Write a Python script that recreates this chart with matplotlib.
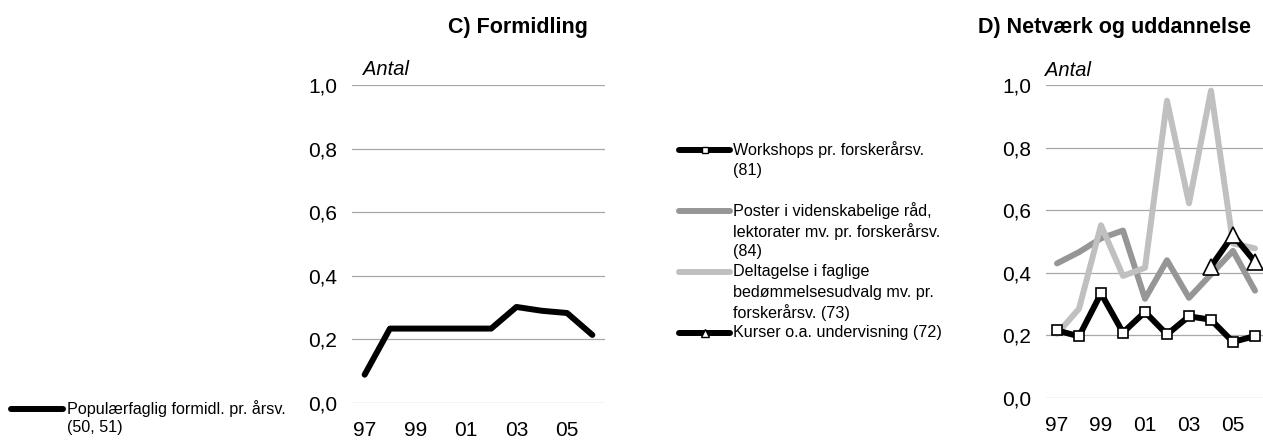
import matplotlib
matplotlib.use("Agg")
import matplotlib.pyplot as plt
from matplotlib.lines import Line2D

plt.rcParams['font.family'] = ['Liberation Sans', 'DejaVu Sans']

years = ['97', '98', '99', '00', '01', '02', '03', '04', '05', '06']
tick_labels = ['97', '99', '01', '03', '05']
y_ticks = [0.0, 0.2, 0.4, 0.6, 0.8, 1.0]
y_tick_labels = ['0,0', '0,2', '0,4', '0,6', '0,8', '1,0']

# Panel C
popular = [0.089, 0.234, 0.234, 0.234, 0.234, 0.234, 0.302, 0.290, 0.283, 0.214]

# Panel D
workshops = [0.216, 0.197, 0.334, 0.209, 0.275, 0.203, 0.261, 0.250, 0.179, 0.198]
poster = [0.430, 0.466, 0.510, 0.535, 0.317, 0.440, 0.320, 0.395, 0.470, 0.343]
deltagelse = [0.205, 0.285, 0.552, 0.390, 0.416, 0.950, 0.622, 0.982, 0.494, 0.478]
kurser = [None, None, None, None, None, None, None, 0.420, 0.521, 0.435]

legend_C = ['Populærfaglig formidl. pr. årsv.', '(50, 51)']
legend_D = [
    ['Workshops pr. forskerårsv.', '(81)', ''],
    ['Poster i videnskabelige råd,', 'lektorater mv. pr. forskerårsv.', '(84)'],
    ['Deltagelse i faglige', 'bedømmelsesudvalg mv. pr.', 'forskerårsv. (73)'],
    ['Kurser o.a. undervisning (72)'],
]

W, H = 1263, 441
fig = plt.figure(figsize=(W / 100, H / 100), dpi=100)

BLACK = '#000000'
MID = '#969696'
LIGHT = '#C0C0C0'
GRID = '#A8A8A8'
LW = 4.3
TICK_FS = 15


def setup(ax, xpad):
    ax.set_xlim(-0.5, len(years) - 0.5)
    ax.set_ylim(0, 1)
    ax.set_xticks([years.index(t) for t in tick_labels])
    ax.set_xticklabels(tick_labels)
    ax.set_yticks(y_ticks)
    ax.set_yticklabels(y_tick_labels)
    for s in ax.spines.values():
        s.set_visible(False)
    ax.tick_params(axis='both', length=0, labelsize=TICK_FS, colors='black')
    ax.tick_params(axis='y', pad=10.5)
    ax.tick_params(axis='x', pad=xpad)
    ax.yaxis.grid(True, color=GRID, linewidth=0.9)
    ax.set_axisbelow(True)
    ax.patch.set_alpha(0)


# Panel C axes
axC = fig.add_axes([352 / W, (H - 403) / H, 253 / W, 318 / H])
setup(axC, 13)
xs = list(range(len(years)))
axC.plot(xs, popular, color=BLACK, linewidth=LW, solid_capstyle='round',
         solid_joinstyle='round', clip_on=False)
axC.text(11 / 253, 1.03, 'Antal', transform=axC.transAxes, fontsize=14.5,
         style='italic', ha='left', va='baseline')
fig.text(518 / W, 1 - 27 / H, 'C) Formidling', fontsize=15.5, fontweight='bold',
         ha='center', va='center')

# Panel D axes
axD = fig.add_axes([1046 / W, (H - 398) / H, 220 / W, 313 / H])
setup(axD, 13)
axD.plot(xs, poster, color=MID, linewidth=LW, solid_capstyle='round',
         solid_joinstyle='round', zorder=2, clip_on=False)
axD.plot(xs, deltagelse, color=LIGHT, linewidth=LW, solid_capstyle='round',
         solid_joinstyle='round', zorder=3, clip_on=False)
axD.plot(xs, workshops, color=BLACK, linewidth=LW, marker='s', markersize=7.5,
         markerfacecolor='white', markeredgecolor=BLACK, markeredgewidth=1.2,
         solid_joinstyle='round', zorder=5, clip_on=False)
kx = [i for i, v in enumerate(kurser) if v is not None]
ky = [v for v in kurser if v is not None]
axD.plot(kx, ky, color=BLACK, linewidth=LW, marker='^', markersize=11,
         markerfacecolor='white', markeredgecolor=BLACK, markeredgewidth=1.2,
         solid_joinstyle='round', zorder=6, clip_on=False)
axD.text(-1 / 220, 1.03, 'Antal', transform=axD.transAxes, fontsize=14.5,
         style='italic', ha='left', va='baseline')
fig.text(1114 / W, 1 - 27 / H, 'D) Netværk og uddannelse', fontsize=15.5,
         fontweight='bold', ha='center', va='center')

# Legend overlay in pixel space
ov = fig.add_axes([0, 0, 1, 1])
ov.set_xlim(0, W)
ov.set_ylim(H, 0)
ov.axis('off')

LEG_FS = 11.6
# Legend for C
ov.add_line(Line2D([11, 63], [409, 409], color=BLACK, linewidth=LW,
                   solid_capstyle='round'))
for k, line in enumerate(legend_C):
    ov.text(67, 409 + 18.5 * k, line, fontsize=LEG_FS, va='center', ha='left')

# Legend for D
styles = [
    dict(color=BLACK, marker='s', markersize=4.5),
    dict(color=MID, marker=None),
    dict(color=LIGHT, marker=None),
    dict(color=BLACK, marker='^', markersize=5.5),
]
step = 20.3
row = 0
for entry, st in zip(legend_D, styles):
    y = 150 + step * row
    ov.add_line(Line2D([679, 730], [y, y], color=st['color'], linewidth=LW,
                       solid_capstyle='round'))
    if st['marker']:
        ov.add_line(Line2D([704.5], [y], linestyle='none', marker=st['marker'],
                           markersize=st['markersize'], markerfacecolor='white',
                           markeredgecolor=BLACK, markeredgewidth=1.0))
    for k, line in enumerate(entry):
        ov.text(733, y + step * k, line, fontsize=LEG_FS, va='center', ha='left')
    row += len(entry)

fig.savefig('out.png', dpi=100)
